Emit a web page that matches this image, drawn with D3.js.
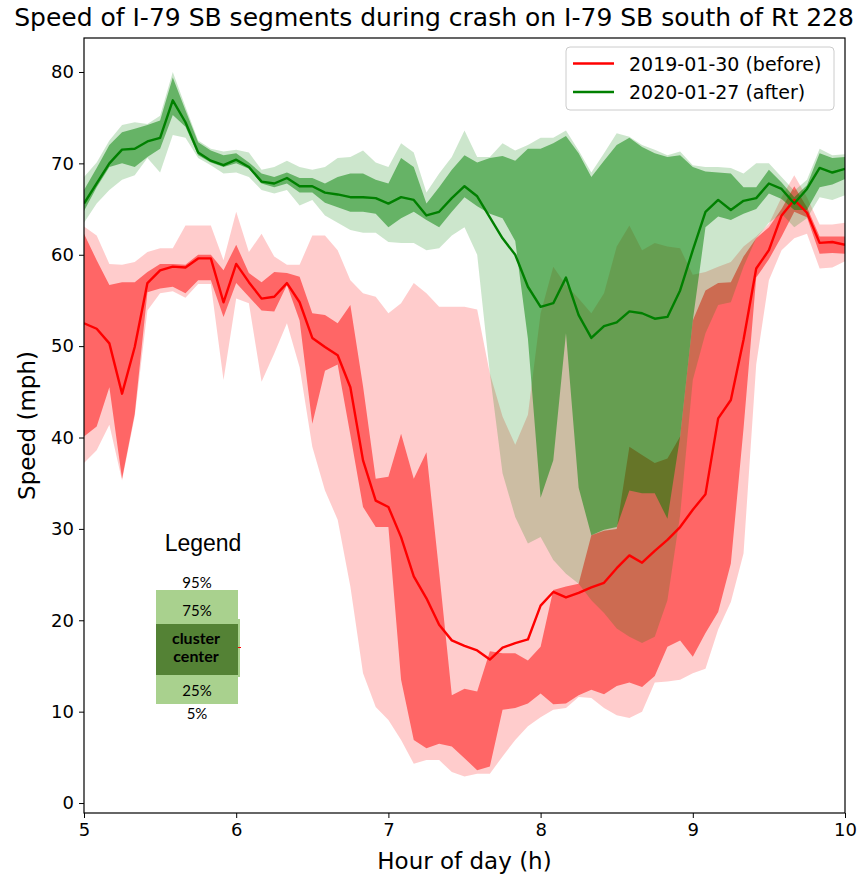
<!DOCTYPE html>
<html>
<head>
<meta charset="utf-8">
<script src="https://cdn.jsdelivr.net/npm/d3@7"></script>
<style>
  body { margin: 0; background: #fff; }
  text { font-family: "DejaVu Sans", sans-serif; }
</style>
</head>
<body>
<svg id="chart" width="861" height="875"></svg>
<script>
// time of day, 5 minute steps
const times = ["5:00","5:05","5:10","5:15","5:20","5:25","5:30","5:35","5:40","5:45",
  "5:50","5:55","6:00","6:05","6:10","6:15","6:20","6:25","6:30","6:35",
  "6:40","6:45","6:50","6:55","7:00","7:05","7:10","7:15","7:20","7:25",
  "7:30","7:35","7:40","7:45","7:50","7:55","8:00","8:05","8:10","8:15",
  "8:20","8:25","8:30","8:35","8:40","8:45","8:50","8:55","9:00","9:05",
  "9:10","9:15","9:20","9:25","9:30","9:35","9:40","9:45","9:50","9:55","10:00"];

// 2019-01-30 (before)
const redCenter = [52.5,51.9,50.3,44.8,49.9,56.9,58.3,58.7,58.6,59.6,
  59.6,54.8,59.0,57.0,55.2,55.4,56.9,54.8,50.9,49.9,
  49.0,45.5,37.5,33.1,32.4,29.1,24.8,22.4,19.5,17.8,
  17.2,16.7,15.7,17.0,17.5,17.9,21.6,23.1,22.5,23.0,
  23.6,24.1,25.7,27.1,26.3,27.6,28.8,30.2,32.1,33.8,
  42.1,44.1,50.7,58.5,60.5,64.3,66.0,64.6,61.3,61.4,61.1];
const redP5 = [37.2,38.6,41.4,35.3,42.3,53.9,55.8,56.0,55.3,56.8,
  56.8,46.3,55.2,54.7,46.1,49.2,52.5,47.7,39.0,34.2,
  31.0,23.7,14.2,10.5,9.1,6.9,4.3,4.7,4.7,3.4,
  2.9,3.2,3.2,5.1,6.9,8.4,9.4,10.2,10.4,11.6,
  11.5,10.4,9.6,9.3,10.0,13.2,13.3,13.5,14.2,14.7,
  19.0,22.0,27.3,48.0,57.2,60.5,61.8,62.3,58.5,58.6,59.3];
const redP25 = [40.1,41.2,45.5,35.5,42.6,55.9,56.3,56.5,55.8,57.2,
  57.2,53.2,56.9,55.4,53.9,53.8,56.7,52.8,41.5,47.3,
  48.0,40.3,32.4,30.2,30.2,13.5,6.9,6.0,6.5,6.2,
  4.9,3.6,4.0,10.2,10.4,10.9,12.0,10.8,10.9,11.8,
  12.4,11.9,12.8,13.2,12.7,13.9,17.1,17.8,16.0,18.6,
  20.9,26.2,41.0,57.5,59.5,62.0,64.7,64.1,60.1,60.2,60.1];
const redP75 = [62.3,59.4,56.7,57.0,57.0,58.1,59.0,59.0,58.9,60.0,
  60.0,58.3,61.1,58.0,57.0,58.1,58.0,57.6,53.6,53.4,
  52.5,54.5,45.6,35.5,35.7,40.4,35.5,38.4,25.3,11.8,
  12.5,12.2,16.6,16.4,16.4,15.6,17.1,23.3,23.7,24.0,
  29.3,29.8,30.0,39.0,38.1,37.2,37.7,40.1,52.8,56.1,
  56.9,57.0,59.8,61.8,63.0,65.0,67.5,65.2,62.0,62.0,62.0];
const redP95 = [63.1,62.1,59.0,58.9,59.2,60.3,60.7,60.7,63.2,63.2,
  63.2,59.4,64.7,60.3,62.3,59.8,58.9,58.9,62.1,62.1,
  60.5,57.2,55.8,55.4,53.6,54.7,56.9,55.8,54.3,54.3,
  54.3,54.0,47.0,42.3,39.2,42.5,53.6,58.7,56.7,55.2,
  53.6,55.8,60.9,63.2,60.5,61.3,60.9,60.7,57.8,58.1,
  58.7,59.2,60.9,62.0,63.4,66.3,68.7,66.3,63.3,63.3,63.5];

// 2020-01-27 (after)
const greenCenter = [65.6,67.8,70.0,71.5,71.6,72.4,72.8,76.9,74.5,71.2,
  70.3,69.8,70.4,69.6,68.0,67.8,68.4,67.5,67.5,66.8,
  66.6,66.3,66.3,66.2,65.6,66.3,66.0,64.3,64.7,66.2,
  67.5,66.4,64.1,61.8,60.0,56.5,54.3,54.7,57.5,53.4,
  50.9,52.2,52.6,53.8,53.6,53.0,53.2,56.1,60.5,64.7,
  66.0,64.9,65.9,66.2,67.8,67.2,65.6,67.2,69.5,69.0,69.4];
const greenP5 = [63.5,65.6,67.1,68.2,68.7,70.6,69.0,73.1,72.8,70.6,
  69.8,68.9,69.0,68.5,67.1,66.7,67.1,65.4,66.0,64.3,
  63.5,62.7,62.4,62.4,61.4,61.3,61.3,60.5,60.7,62.1,
  63.0,60.0,47.0,36.1,31.3,28.4,29.1,26.6,25.1,24.0,
  22.2,20.8,19.1,18.2,17.5,18.2,22.2,31.5,46.3,51.4,
  54.5,54.8,58.7,61.8,63.5,64.5,63.0,64.0,66.3,66.0,66.5];
const greenP25 = [64.8,67.4,69.6,70.0,69.6,70.7,71.6,75.3,74.0,70.9,
  70.1,69.6,70.0,69.4,67.8,67.4,67.8,66.8,66.8,65.7,
  65.2,64.7,64.7,64.5,63.0,64.0,64.7,63.8,63.0,64.7,
  66.3,65.3,64.5,64.0,61.5,50.8,33.4,37.5,51.4,34.5,
  29.3,29.9,30.2,34.2,33.9,33.9,31.1,40.1,52.8,63.0,
  64.2,63.8,64.5,65.0,66.7,66.1,64.9,64.9,67.4,67.7,68.3];
const greenP75 = [67.1,69.5,72.0,73.4,73.8,74.2,74.7,79.4,75.8,72.3,
  71.4,70.9,71.1,70.1,68.9,68.5,69.0,68.4,68.4,67.8,
  68.5,68.9,68.9,68.2,67.8,70.6,69.6,65.6,67.4,69.3,
  70.9,70.1,70.6,70.8,70.3,71.6,71.6,72.2,73.0,71.1,
  68.5,70.3,72.0,72.8,71.8,71.1,70.7,70.9,69.6,69.1,
  69.0,68.9,67.4,67.4,69.3,67.9,66.3,67.6,71.1,70.6,70.7];
const greenP95 = [68.5,70.1,72.5,74.2,74.5,74.3,75.2,80.0,76.2,72.5,
  71.6,71.3,71.5,71.2,69.3,69.6,70.3,69.6,69.3,69.6,
  70.6,70.7,71.4,70.1,69.6,72.2,71.2,66.8,68.9,70.7,
  73.6,70.7,70.7,72.2,71.4,72.0,72.8,72.8,73.6,71.4,
  69.0,71.1,73.3,72.9,72.0,71.5,70.9,71.3,69.8,69.6,
  69.6,69.5,68.9,70.0,70.0,68.5,67.0,68.2,71.6,70.9,71.0];

const xTicks = [5, 6, 7, 8, 9, 10];
const yTicks = [0, 10, 20, 30, 40, 50, 60, 70, 80];
const legendLabels = ["2019-01-30 (before)", "2020-01-27 (after)"];
const boxLabels = ["95%", "75%", "25%", "5%"];

const PLOT_LEFT = 84, PLOT_RIGHT = 845, PLOT_TOP = 38, PLOT_BOT = 813;
const RED = "#ff0000", GREEN = "#008000";

var svg = d3.select("#chart");

function hourOf(t) {
  var p = t.split(":");
  return +p[0] + (+p[1]) / 60;
}

function buildRows(center, p5, p25, p75, p95) {
  return times.map(function(t, i) {
    return { h: hourOf(t), c: center[i], p5: p5[i], p25: p25[i], p75: p75[i], p95: p95[i] };
  });
}

var redRows = buildRows(redCenter, redP5, redP25, redP75, redP95),
    greenRows = buildRows(greenCenter, greenP5, greenP25, greenP75, greenP95);

var x = d3.scaleLinear().domain([5, 10]).range([PLOT_LEFT, PLOT_RIGHT]),
    y = d3.scaleLinear().domain([-1.09, 83.72]).range([PLOT_BOT, PLOT_TOP]);

svg.append("clipPath").attr("id", "plotclip")
  .append("rect")
    .attr("x", PLOT_LEFT).attr("y", PLOT_TOP)
    .attr("width", PLOT_RIGHT - PLOT_LEFT).attr("height", PLOT_BOT - PLOT_TOP);

var plot = svg.append("g").attr("clip-path", "url(#plotclip)");

function band(lo, hi) {
  return d3.area()
    .x(function(d) { return x(d.h); })
    .y0(function(d) { return y(d[lo]); })
    .y1(function(d) { return y(d[hi]); });
}
var centerLine = d3.line()
  .x(function(d) { return x(d.h); })
  .y(function(d) { return y(d.c); });

// bands: outer 5-95 then inner 25-75, red first
[[redRows, RED], [greenRows, GREEN]].forEach(function(s) {
  plot.append("path").attr("d", band("p5", "p95")(s[0]))
    .attr("fill", s[1]).attr("fill-opacity", 0.2);
  plot.append("path").attr("d", band("p25", "p75")(s[0]))
    .attr("fill", s[1]).attr("fill-opacity", 0.5);
});

plot.append("path").attr("d", centerLine(redRows))
  .attr("fill", "none").attr("stroke", RED).attr("stroke-width", 2.4)
  .attr("stroke-linejoin", "round");
plot.append("path").attr("d", centerLine(greenRows))
  .attr("fill", "none").attr("stroke", GREEN).attr("stroke-width", 2.4)
  .attr("stroke-linejoin", "round");

// axes
var xAxis = d3.axisBottom(x).tickValues(xTicks).tickFormat(d3.format("d"))
  .tickSizeInner(5).tickSizeOuter(0).tickPadding(5);
var yAxis = d3.axisLeft(y).tickValues(yTicks)
  .tickSizeInner(5).tickSizeOuter(0).tickPadding(5);

var gx = svg.append("g").attr("transform", "translate(0," + PLOT_BOT + ")").call(xAxis);
var gy = svg.append("g").attr("transform", "translate(" + PLOT_LEFT + ",0)").call(yAxis);
[gx, gy].forEach(function(g) {
  g.select(".domain").remove();
  g.selectAll(".tick line").attr("stroke", "#000").attr("stroke-width", 1);
  g.selectAll(".tick text").attr("fill", "#000")
    .style("font-family", "DejaVu Sans").style("font-size", "18px");
});

// frame
svg.append("rect")
  .attr("x", PLOT_LEFT).attr("y", PLOT_TOP)
  .attr("width", PLOT_RIGHT - PLOT_LEFT).attr("height", PLOT_BOT - PLOT_TOP)
  .attr("fill", "none").attr("stroke", "#000").attr("stroke-width", 1.2);

// titles
svg.append("text")
  .attr("x", 434).attr("y", 26)
  .attr("text-anchor", "middle").style("font-size", "25px")
  .text("Speed of I-79 SB segments during crash on I-79 SB south of Rt 228");
svg.append("text")
  .attr("x", (PLOT_LEFT + PLOT_RIGHT) / 2).attr("y", 869)
  .attr("text-anchor", "middle").style("font-size", "23px")
  .text("Hour of day (h)");
svg.append("text")
  .attr("transform", "translate(35," + ((PLOT_TOP + PLOT_BOT) / 2) + ") rotate(-90)")
  .attr("text-anchor", "middle").style("font-size", "23px")
  .text("Speed (mph)");

// line legend
var lg = svg.append("g").attr("transform", "translate(566,47)");
lg.append("rect")
  .attr("width", 268).attr("height", 63).attr("rx", 4)
  .attr("fill", "#fff").attr("fill-opacity", 0.8)
  .attr("stroke", "#cccccc").attr("stroke-width", 1);
[RED, GREEN].forEach(function(col, i) {
  var yy = 16.5 + i * 28.5;
  lg.append("line").attr("x1", 7).attr("x2", 48).attr("y1", yy).attr("y2", yy)
    .attr("stroke", col).attr("stroke-width", 2.4);
  lg.append("text").attr("x", 63).attr("y", yy + 7)
    .style("font-size", "19px").text(legendLabels[i]);
});

// band explanation box
var bx = svg.append("g");
bx.append("text").attr("x", 203).attr("y", 551).attr("text-anchor", "middle")
  .style("font-family", "Liberation Sans").style("font-size", "23px").text("Legend");
bx.append("rect").attr("x", 156).attr("y", 590).attr("width", 82).attr("height", 114)
  .attr("fill", "#a9d18e");
bx.append("rect").attr("x", 238).attr("y", 619).attr("width", 2).attr("height", 58)
  .attr("fill", "#a9d18e");
bx.append("rect").attr("x", 156).attr("y", 624).attr("width", 82).attr("height", 51)
  .attr("fill", "#548235");
bx.append("line").attr("x1", 238).attr("x2", 241).attr("y1", 647.5).attr("y2", 647.5)
  .attr("stroke", RED).attr("stroke-width", 1);
var boxY = [588, 616, 696, 719];
boxLabels.forEach(function(t, i) {
  bx.append("text").attr("x", 197).attr("y", boxY[i]).attr("text-anchor", "middle")
    .style("font-family", "Lato").style("font-weight", 400)
    .style("font-size", "15px").attr("fill", "#000").text(t);
});
bx.append("text").attr("x", 196).attr("y", 644).attr("text-anchor", "middle")
  .style("font-family", "Lato").style("font-weight", 700).style("font-size", "16px")
  .text("cluster");
bx.append("text").attr("x", 196).attr("y", 662).attr("text-anchor", "middle")
  .style("font-family", "Lato").style("font-weight", 700).style("font-size", "16px")
  .text("center");
</script>
</body>
</html>
